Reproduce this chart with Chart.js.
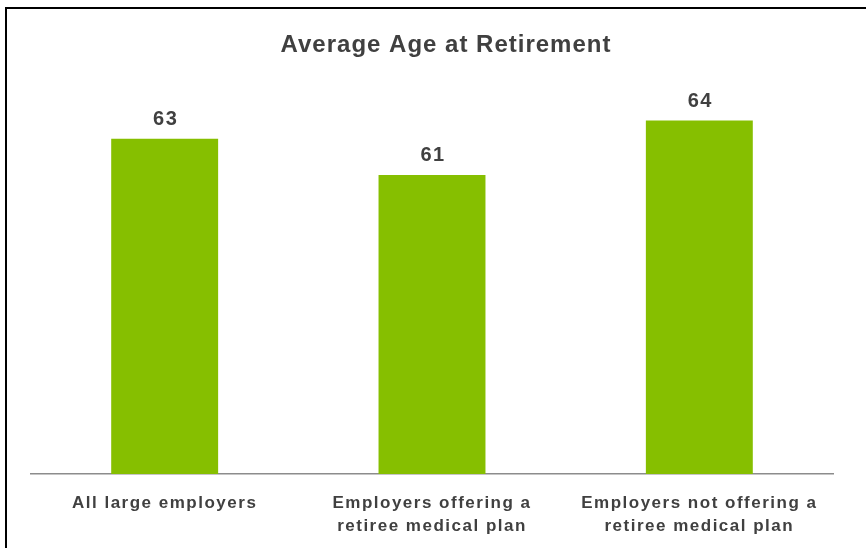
<!DOCTYPE html>
<html>
<head>
<meta charset="utf-8">
<script src="https://cdn.jsdelivr.net/npm/chart.js@4.4.1/dist/chart.umd.min.js"></script>
<style>
  html, body { margin: 0; padding: 0; background: #fff; overflow: hidden; }
  #wrap { position: relative; width: 866px; height: 548px; }
  #frame {
    position: absolute; left: 5px; top: 7px; width: 900px; height: 600px;
    border-left: 2px solid #000; border-top: 2px solid #000; pointer-events: none;
  }
</style>
</head>
<body>
<div id="wrap">
  <canvas id="chart" width="866" height="548"></canvas>
  <div id="frame"></div>
</div>
<script>
const chartTitle = 'Average Age at Retirement';
const categories = [
  ['All large employers'],
  ['Employers offering a', 'retiree medical plan'],
  ['Employers not offering a', 'retiree medical plan']
];
const avgAge = [63, 61, 64];

const textColor = '#404040';
const barColor = '#86bf00';

// wider letter spacing like the original slide text
const spacingPlugin = {
  id: 'spacing',
  beforeLayout(chart) { chart.ctx.letterSpacing = '1.5px'; },
  beforeDraw(chart) { chart.ctx.letterSpacing = '1.5px'; },
  afterLayout(chart) {
    const tb = chart.titleBlock;
    // nudge the title to the right, as in the slide
    tb.left += 14;
    tb.right += 14;
    if (!tb._wrapped) {
      const origDraw = tb.draw.bind(tb);
      tb.draw = function () {
        const ctx = chart.ctx;
        const prev = ctx.letterSpacing;
        ctx.letterSpacing = '1px';
        origDraw();
        ctx.letterSpacing = prev;
      };
      tb._wrapped = true;
    }
  }
};

const valueLabels = {
  id: 'valueLabels',
  afterDatasetsDraw(chart) {
    const ctx = chart.ctx;
    const meta = chart.getDatasetMeta(0);
    ctx.save();
    ctx.letterSpacing = '1.5px';
    ctx.font = 'bold 20px "Liberation Sans", Arial, sans-serif';
    ctx.fillStyle = textColor;
    ctx.textAlign = 'center';
    ctx.textBaseline = 'alphabetic';
    meta.data.forEach((bar, i) => {
      ctx.fillText(String(avgAge[i]), bar.x + 1, bar.y - 14);
    });
    ctx.restore();
  }
};

new Chart(document.getElementById('chart'), {
  type: 'bar',
  data: {
    labels: categories,
    datasets: [{
      data: avgAge,
      backgroundColor: barColor,
      borderWidth: 0,
      categoryPercentage: 1,
      barPercentage: 0.4
    }]
  },
  options: {
    responsive: false,
    animation: false,
    layout: { padding: { left: 31, right: 33, top: 0, bottom: 0 } },
    plugins: {
      legend: { display: false },
      tooltip: { enabled: false },
      title: {
        display: true,
        text: chartTitle,
        color: textColor,
        font: { family: '"Liberation Sans", Arial, sans-serif', size: 24, weight: 'bold', lineHeight: 1.2 },
        padding: { top: 31, bottom: 10 }
      }
    },
    scales: {
      x: {
        grid: { display: false, drawTicks: false },
        border: { display: true, color: '#8c8c8c', width: 1.5 },
        ticks: {
          color: textColor,
          font: { family: '"Liberation Sans", Arial, sans-serif', size: 17, weight: 'bold', lineHeight: 1.35 },
          padding: 18,
          maxRotation: 0,
          autoSkip: false
        },
        afterFit(scale) { scale.height = 74; }
      },
      y: {
        display: false,
        min: 44.5,
        max: 66.8
      }
    }
  },
  plugins: [spacingPlugin, valueLabels]
});
</script>
</body>
</html>
